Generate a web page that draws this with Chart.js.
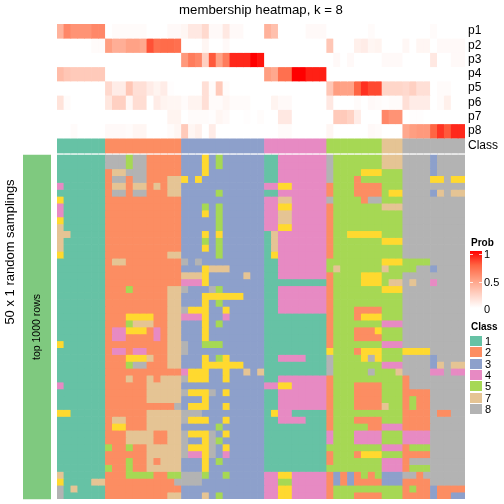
<!DOCTYPE html>
<html>
<head>
<meta charset="utf-8">
<script src="https://cdn.jsdelivr.net/npm/chart.js@4"></script>
<style>
  body { margin: 0; background: #fff; font-family: "Liberation Sans", sans-serif; color: #000; }
  #wrap { position: relative; width: 504px; height: 504px; overflow: hidden; }
  #wrap canvas { position: absolute; top: 0; }
  .txt { position: absolute; font-size: 11px; line-height: 12px; white-space: nowrap; }
  .head { font-weight: bold; font-size: 10px; }
  .swatch { position: absolute; left: 470px; width: 12px; height: 10px; }
  #ramp { position: absolute; left: 470px; top: 251px; width: 12px; height: 57px;
    background: linear-gradient(#ff0000, #ff6543 25%, #ff9e81 50%, #ffd0c2 75%, #ffffff); }
  .rampTick { position: absolute; height: 1px; width: 3px; background: #fff; opacity: .8; }
</style>
</head>
<body>
<div id="wrap">
  <canvas id="side" width="57" height="504" style="left:0"></canvas>
  <canvas id="heat" width="504" height="504" style="left:0"></canvas>
  <div id="ramp">
    <div class="rampTick" style="left:0;top:3px"></div><div class="rampTick" style="right:0;top:3px"></div>
    <div class="rampTick" style="left:0;top:31px"></div><div class="rampTick" style="right:0;top:31px"></div>
  </div>
  <div id="legend"></div>
</div>
<script>
// membership values per column, grouped by class
const p1 = [.4,.6,.55,.55,.55,.6,.6, 0,.02,.02,.02,.02,.02,0,0,0,.03,.03, .05,.12,.12,.2,.03,.03,.12,.03,.03,0,0,0, .4,.33,0,0,0,0,.03,.03,.03, 0,0,0,0,0,0,.02,0, 0,0,0, 0,0,0,0,.02,0,0,0,0];
const p2 = [0,0,0,0,0,.02,.02, .5,.42,.42,.48,.48,.45,.8,.7,.72,.72,.7, 0,0,0,.05,0,0,.03,0,0,0,0,0, 0,0,0,0,0,0,0,0,0, .3,0,0,0,.08,.1,.05,.06, 0,0,0, .04,0,.05,.05,0,.03,.03,.03,.03];
const p3 = [0,0,0,0,0,0,0, 0,0,0,0,0,0,0,0,0,0,0, .52,.65,.6,.25,.78,.48,.65,.9,.9,.9,1,.95, 0,0,0,0,0,0,0,0,0, 0,.03,0,.03,0,0,0,0, .03,.03,.03, 0,0,0,0,.12,0,0,.03,.03];
const p4 = [.35,.3,.28,.28,.28,.28,.28, 0,0,0,0,0,0,0,0,0,0,0, 0,0,0,0,0,0,0,0,0,0,0,0, .5,.45,.7,.7,1,1,.92,.92,.92, 0,0,0,0,0,0,0,0, 0,0,0, 0,0,0,0,0,0,0,0,0];
const p5 = [0,0,0,0,0,0,0, .2,.1,.1,.3,.17,.17,.1,.06,.1,.01,0, 0,0,0,.17,.02,.28,.02,0,0,0,0,0, 0,0,0,0,0,0,0,0,0, .3,.5,.48,.48,.75,.88,.82,.82, .22,.22,.22, .2,.25,.17,.17,0,.02,.02,0,0];
const p6 = [.15,.02,0,0,0,0,0, .13,.25,.25,.04,.18,.18,0,.1,.06,.05,.05, .02,.06,.06,.17,.02,.02,.05,.02,.02,.02,0,0, 0,.06,.03,.03,0,0,0,0,0, .12,0,0,0,.02,0,.03,.02, .01,.02,.02, .17,.1,.1,.1,0,.02,.08,0,0];
const p7 = [0,0,0,0,0,0,0, 0,0,0,0,0,0,0,0,0,.06,.06, 0,.02,.02,.02,.01,.05,.03,0,0,.01,0,.015, 0,0,.12,.12,0,0,0,0,0, 0,.28,.28,.24,.1,0,0,0, .6,.55,.55, 0,.01,.01,0,0,0,0,0,0];
const p8 = [0,0,.02,0,0,0,0, .03,.03,.03,.02,.05,.05,0,0,0,.02,.05, .28,.05,.08,0,.1,0,0,0,0,0,0,0, 0,0,.02,.02,0,0,0,0,0, .05,0,0,0,0,0,.03,.02, 0,0,0, .45,.5,.52,.52,.75,.87,.78,.9,.9];
const memberRows = [p1, p2, p3, p4, p5, p6, p7, p8];

const rowNames = ["p1", "p2", "p3", "p4", "p5", "p6", "p7", "p8", "Class"];
const classRow = "1111111 22222222222 333333333333 444444444 55555555 777 888888888";

// one string per random sampling, spaces only split the class groups
const samplingRows = [
  "1111111 88858822222 333635333333 114444444 85555555 777 888838888",
  "1111111 88858822222 333635333333 114444444 85555555 777 888838888",
  "1111111 27788822222 333633333333 114444444 85555666 555 888838888",
  "1111111 28828822277 636333333333 114444444 85552555 555 888866866",
  "4111111 27727727277 333333333333 446644444 25552222 555 888888888",
  "1111111 28828822277 333335333333 114444444 25552222 566 888837877",
  "6111111 22222222222 333333333333 447744444 85555288 555 888888888",
  "4111111 22222222222 333535333333 446644444 25555555 777 888888888",
  "4111111 22222222222 333635333333 447744444 25555555 555 888888888",
  "6111111 22222222222 333335333333 447744444 25555555 555 888888888",
  "7111111 22222222222 333335333333 446644444 25555555 555 888888888",
  "7711111 22222222222 333636333333 174444444 25566666 555 888888888",
  "7111111 22222222222 333535333333 174444444 25555555 666 888888888",
  "7111111 22222222222 333635333333 174444444 25555555 555 888888888",
  "6111111 22222222277 333335333333 164444444 25555555 555 888888888",
  "1111111 27722222222 838333333333 114444444 55555555 666 555588888",
  "1111111 22222222222 333677733333 114444444 57555555 755 558838888",
  "1111111 22222222222 777633333733 114444444 25555666 555 888888888",
  "1111111 22222222222 444633333333 111111111 25555666 577 878848888",
  "1111111 22252222277 833385333333 114444444 25555555 666 888888888",
  "1111111 22222222277 333666666333 114444444 25555555 555 888888888",
  "1111111 22222222277 333635333333 114444444 25555555 555 888888888",
  "1111111 22222222277 866633633333 114444444 25552222 555 888888888",
  "1111111 22266662277 444633433333 111111111 25552666 555 888888888",
  "1111111 22257772277 333635333333 111111111 25555555 444 888888888",
  "1111111 24466624277 333633333333 111111111 25552226 555 888888888",
  "1111111 24422224277 333633333333 111111111 25552222 555 888888888",
  "6111111 22222222277 833555333333 111111111 25555555 444 888888888",
  "1111111 24424422277 833333333333 111111111 65552666 555 666688888",
  "1111111 22266672277 333635633333 114444111 85555686 555 888838888",
  "1111111 22258822277 333666666333 111111111 85555555 444 888837877",
  "1111111 22222222222 466633633737 111111111 85555585 557 888844844",
  "1111111 22272272777 866633633333 114444444 25555555 555 288888888",
  "4111111 22222277777 333333333333 446644444 25552222 555 288888888",
  "1111111 22222277777 866683633333 114444444 25552222 555 222288888",
  "1111111 22222277777 333633333333 114444444 25552222 555 252288888",
  "1111111 22222222228 366633633333 114444444 25552222 755 252288888",
  "6611111 22222277777 888333333333 164411111 25555555 555 222282288",
  "1111111 27722277777 866633633333 114444111 25552222 555 222288888",
  "1111111 26622277777 333335333333 111111111 25555522 444 222288888",
  "1111111 22277772277 866683633333 111111111 45554444 555 444488888",
  "1111111 22277772277 833685333333 111111111 45554444 555 444488888",
  "1111111 52252277777 866683633333 111111111 55555555 444 255588888",
  "1111111 22222277777 844683433333 111111111 25552666 555 222288888",
  "1111111 22252272777 333635333333 111111111 25555555 444 288888888",
  "1111111 52252277777 333633333333 111111111 55555555 444 255588888",
  "7111111 22255552255 888533533333 446644444 23232525 333 882888888",
  "6111177 22222222228 888333333333 445544444 23232222 333 222288888",
  "8171111 22222222222 333333333333 446644444 25555555 555 252232222",
  "8111111 22222222277 333735333333 446644444 25552222 555 222232233"
];

const classColors = { 1: "#66c2a5", 2: "#fc8d62", 3: "#8da0cb", 4: "#e78ac3", 5: "#a6d854", 6: "#ffd92f", 7: "#e5c494", 8: "#b3b3b3" };
const legendClasses = [1, 2, 3, 4, 5, 7, 8];
const probLabels = ["1", "0.5", "0"];

const FONT = '"Liberation Sans", sans-serif';
const MEMBER_H = 14.25;
const CLASS_TOP = 114.5, CLASS_BOTTOM = 129;
const MAIN_TOP = 131, MAIN_H = 344 / samplingRows.length;

// white to red through the same stops as the Prob ramp
const rampStops = [[255, 255, 255], [255, 208, 194], [255, 158, 129], [255, 101, 67], [255, 0, 0]];
function probColor(v) {
  const pos = v * (rampStops.length - 1);
  const i = Math.min(Math.floor(pos), rampStops.length - 2);
  const t = pos - i;
  const c = rampStops[i].map((s, k) => Math.round(s + (rampStops[i + 1][k] - s) * t));
  return `rgb(${c[0]},${c[1]},${c[2]})`;
}

function bandDataset(y0, y1, colors) {
  return {
    data: colors.map(() => [y0, y1]),
    backgroundColor: colors,
    borderWidth: 0,
    grouped: false,
    barPercentage: 1,
    categoryPercentage: 1
  };
}

const datasets = [];
memberRows.forEach((row, r) => {
  datasets.push(bandDataset(r * MEMBER_H, (r + 1) * MEMBER_H, row.map(probColor)));
});
const classCells = classRow.replace(/ /g, "").split("");
datasets.push(bandDataset(CLASS_TOP, CLASS_BOTTOM, classCells.map(c => classColors[c])));
samplingRows.forEach((row, r) => {
  const cells = row.replace(/ /g, "").split("");
  datasets.push(bandDataset(MAIN_TOP + r * MAIN_H, MAIN_TOP + (r + 1) * MAIN_H, cells.map(c => classColors[c])));
});

const tickCenters = rowNames.map((n, i) => i < 8 ? (i + .5) * MEMBER_H : (CLASS_TOP + CLASS_BOTTOM) / 2);

new Chart(document.getElementById("heat"), {
  type: "bar",
  data: { labels: classCells.map((c, i) => i + 1), datasets: datasets },
  options: {
    responsive: false,
    animation: false,
    events: [],
    layout: { padding: { left: 57, right: 0, top: 2, bottom: 5 } },
    plugins: {
      legend: { display: false },
      tooltip: { enabled: false },
      title: {
        display: true,
        fullSize: false,
        text: "membership heatmap, k = 8",
        color: "#000",
        font: { family: FONT, size: 13.2, weight: "normal" },
        padding: { top: 0, bottom: 6.2 }
      }
    },
    scales: {
      x: { display: false },
      y: {
        position: "right",
        reverse: true,
        min: 0,
        max: 475,
        grid: { display: false, drawTicks: false },
        border: { display: false },
        // no room for half tick labels, they sit well inside the range
        afterFit: axis => { axis.width = 39; axis.paddingTop = 0; axis.paddingBottom = 0; },
        afterBuildTicks: axis => { axis.ticks = tickCenters.map(v => ({ value: v })); },
        ticks: {
          autoSkip: false,
          padding: 3,
          color: "#000",
          font: { family: FONT, size: 12 },
          callback: (value, index) => rowNames[index]
        }
      }
    }
  }
});

// rotated label inside the green strip
const stripLabel = {
  id: "stripLabel",
  afterDatasetsDraw(chart) {
    const bar = chart.getDatasetMeta(0).data[0];
    const ctx = chart.ctx;
    ctx.save();
    ctx.translate(bar.x, (bar.y + bar.base) / 2);
    ctx.rotate(-Math.PI / 2);
    ctx.fillStyle = "#000";
    ctx.font = "10.5px " + FONT;
    ctx.textAlign = "center";
    ctx.textBaseline = "middle";
    ctx.fillText("top 1000 rows", 0, 0);
    ctx.restore();
  }
};

new Chart(document.getElementById("side"), {
  type: "bar",
  data: { labels: ["top 1000 rows"], datasets: [{ data: [[155, 499]], backgroundColor: "#7fc97f", barPercentage: 1, categoryPercentage: 1 }] },
  options: {
    responsive: false,
    animation: false,
    events: [],
    layout: { padding: { right: 6 } },
    plugins: { legend: { display: false }, tooltip: { enabled: false } },
    scales: {
      x: { display: false },
      y: {
        reverse: true,
        min: 0,
        max: 504,
        grid: { display: false, drawTicks: false },
        border: { display: false },
        ticks: { display: false },
        afterFit: axis => { axis.width = 23; },
        title: {
          display: true,
          text: "50 x 1 random samplings",
          color: "#000",
          font: { family: FONT, size: 13 },
          padding: { top: 3, bottom: 0 }
        }
      }
    }
  },
  plugins: [stripLabel]
});

// legends
const legend = document.getElementById("legend");
function addText(text, left, top, cls) {
  const d = document.createElement("div");
  d.className = "txt" + (cls ? " " + cls : "");
  d.textContent = text;
  d.style.left = left + "px";
  d.style.top = top + "px";
  legend.appendChild(d);
}
addText("Prob", 471, 237, "head");
probLabels.forEach((t, i) => addText(t, 484, [248, 276, 303][i]));
addText("Class", 471, 321, "head");
legendClasses.forEach((c, i) => {
  const s = document.createElement("div");
  s.className = "swatch";
  s.style.top = (336 + i * 11.35) + "px";
  s.style.background = classColors[c];
  legend.appendChild(s);
  addText(String(c), 485, 335 + i * 11.35);
});
</script>
</body>
</html>
